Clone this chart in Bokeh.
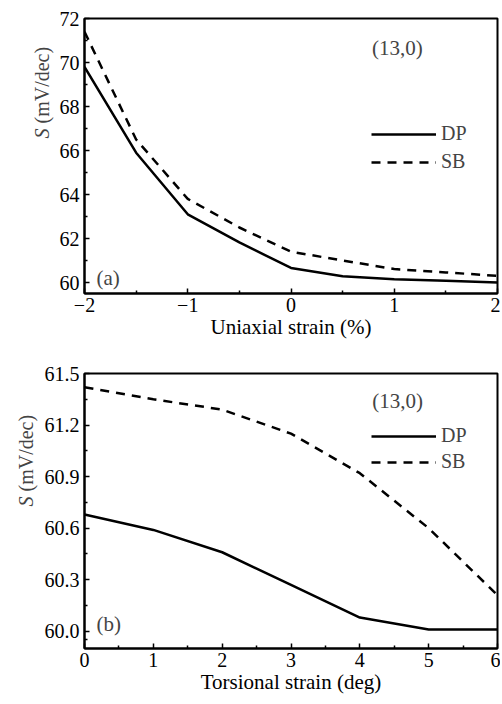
import math
from bokeh.plotting import figure
from bokeh.layouts import column, row
from bokeh.models import FixedTicker, Legend, LegendItem, Label, Range1d, NumeralTickFormatter
from bokeh.embed import file_html
from bokeh.resources import INLINE

# ---- data ----
uni_strain = [-2.0, -1.5, -1.0, -0.5, 0.0, 0.5, 1.0, 1.5, 2.0]
uni_dp = [69.8, 65.9, 63.1, 61.82, 60.66, 60.28, 60.15, 60.08, 60.0]
uni_sb = [71.4, 66.5, 63.8, 62.5, 61.4, 61.0, 60.61, 60.46, 60.3]

tor_strain = [0, 1, 2, 3, 4, 5, 6]
tor_dp = [60.68, 60.59, 60.46, 60.27, 60.08, 60.01, 60.01]
tor_sb = [61.42, 61.35, 61.29, 61.15, 60.92, 60.6, 60.21]

uni_xticks = [-2, -1, 0, 1, 2]
uni_yticks = [60, 62, 64, 66, 68, 70, 72]
tor_xticks = [0, 1, 2, 3, 4, 5, 6]
tor_yticks = [60.0, 60.3, 60.6, 60.9, 61.2, 61.5]

FONT = "Liberation Serif"


def style(p, xt, xminor, yt, yminor, xtitle):
    p.xaxis.ticker = FixedTicker(ticks=xt, minor_ticks=xminor)
    p.yaxis.ticker = FixedTicker(ticks=yt, minor_ticks=yminor)
    for ax in (p.xaxis[0], p.yaxis[0]):
        ax.major_tick_in = 5
        ax.major_tick_out = 0
        ax.minor_tick_in = 3
        ax.minor_tick_out = 0
        ax.axis_line_width = 2
        ax.major_tick_line_width = 1.5
        ax.minor_tick_line_width = 1.5
        ax.major_label_text_font = FONT
        ax.major_label_text_font_size = "20px"
        ax.major_label_text_color = "black"
        ax.axis_label_text_font = FONT
        ax.axis_label_text_font_size = "21px"
        ax.axis_label_text_font_style = "normal"
        ax.axis_label_text_color = "black"
    p.xaxis.axis_label = xtitle
    p.xaxis.major_label_standoff = 4
    p.xaxis.axis_label_standoff = 0
    p.yaxis.major_label_standoff = 5
    p.xgrid.visible = False
    p.ygrid.visible = False
    p.outline_line_color = "black"
    p.outline_line_width = 2
    p.outline_line_alpha = 1.0
    p.background_fill_color = "white"
    p.border_fill_color = "white"


def label_strip(width, height, sx, sy):
    # narrow blank figure holding the rotated y title: italic "S" + upright "(mV/dec)"
    q = figure(width=width, height=height, output_backend="svg", toolbar_location=None,
               x_axis_location=None, y_axis_location=None,
               min_border=0, min_border_left=0, min_border_right=0,
               min_border_top=0, min_border_bottom=0)
    q.outline_line_color = None
    q.xgrid.visible = False
    q.ygrid.visible = False
    q.background_fill_color = "white"
    q.border_fill_color = "white"
    q.add_layout(Label(x=sx, y=sy, x_units="screen", y_units="screen", text="S",
                       angle=math.pi / 2, text_align="left", text_baseline="middle",
                       text_font=FONT, text_font_size="20px", text_font_style="italic"))
    q.add_layout(Label(x=sx, y=sy + 15, x_units="screen", y_units="screen", text="(mV/dec)",
                       angle=math.pi / 2, text_align="left", text_baseline="middle",
                       text_font=FONT, text_font_size="20px"))
    return q


def legend(p, rd, rs, loc, spacing):
    leg = Legend(items=[LegendItem(label="DP", renderers=[rd]), LegendItem(label="SB", renderers=[rs])],
                 location=loc, orientation="vertical", glyph_width=65, glyph_height=20,
                 label_height=20, spacing=spacing, padding=0, margin=0, label_standoff=5,
                 label_text_font=FONT, label_text_font_size="20px",
                 border_line_color=None, background_fill_alpha=0)
    p.add_layout(leg)


# ---- panel (a) ----
pa = figure(width=445, height=358, output_backend="svg", toolbar_location=None,
            x_range=Range1d(-2, 2), y_range=Range1d(59.5, 72),
            min_border_left=29, min_border_right=3, min_border_top=18, min_border_bottom=65)
rd = pa.line(uni_strain, uni_dp, line_color="black", line_width=2.5)
rs = pa.line(uni_strain, uni_sb, line_color="black", line_width=2.5, line_dash="9 7")
style(pa, uni_xticks, [-1.5, -0.5, 0.5, 1.5], uni_yticks, [61, 63, 65, 67, 69, 71],
      "Uniaxial strain (%)")
pa.xaxis.major_label_overrides = {-2: "\u22122", -1: "\u22121"}
legend(pa, rd, rs, (287, 120), 5)
pa.add_layout(Label(x=1.03, y=70.68, text="(13,0)", text_align="center", text_baseline="middle",
                    text_font=FONT, text_font_size="21px"))
pa.add_layout(Label(x=-1.884, y=60.21, text="(a)", text_align="left", text_baseline="middle",
                    text_font=FONT, text_font_size="21px"))
la = label_strip(55, 358, 41, 155)

# ---- panel (b) ----
pb = figure(width=462, height=344, output_backend="svg", toolbar_location=None,
            x_range=Range1d(0, 6), y_range=Range1d(59.9, 61.5),
            min_border_left=46, min_border_right=3, min_border_top=15, min_border_bottom=54)
bd = pb.line(tor_strain, tor_dp, line_color="black", line_width=2.5)
bs = pb.line(tor_strain, tor_sb, line_color="black", line_width=2.5, line_dash="9 7")
style(pb, tor_xticks, [0.5, 1.5, 2.5, 3.5, 4.5, 5.5],
      tor_yticks, [59.95, 60.15, 60.45, 60.75, 61.05, 61.35], "Torsional strain (deg)")
pb.yaxis.formatter = NumeralTickFormatter(format="0.0")
legend(pb, bd, bs, (287, 175), 3)
pb.add_layout(Label(x=4.55, y=61.34, text="(13,0)", text_align="center", text_baseline="middle",
                    text_font=FONT, text_font_size="21px"))
pb.add_layout(Label(x=0.174, y=60.044, text="(b)", text_align="left", text_baseline="middle",
                    text_font=FONT, text_font_size="21px"))
lb = label_strip(38, 344, 25, 142)

layout = column(row(la, pa, spacing=0), row(lb, pb, spacing=0), spacing=0)
open("out.html", "w").write(file_html(layout, INLINE))
